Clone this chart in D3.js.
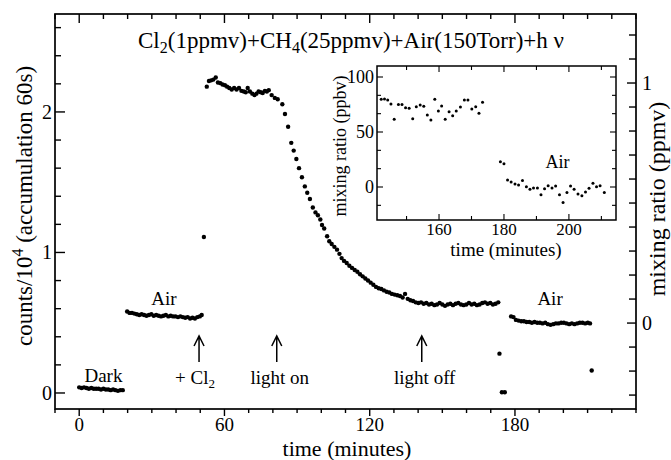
<!DOCTYPE html>
<html lang="en">
<head>
  <meta charset="UTF-8">
  <title>Cl2 + CH4 photolysis</title>
  <script src="https://cdn.jsdelivr.net/npm/d3@7"></script>
  <style>
    html, body { margin: 0; padding: 0; background: #fff; }
    svg text { font-family: 'Liberation Serif', 'Times New Roman', serif; fill: #000; }
  </style>
</head>
<body>
<script>
  // main panel: [time (minutes), counts/10^4]
  const dark = [[0,0.04],[1,0.035],[2,0.04],[3,0.035],[4,0.03],[5,0.035],[6,0.03],[7,0.03],[8,0.03],[9,0.025],
    [10,0.03],[11,0.025],[12,0.025],[13,0.02],[14,0.025],[15,0.02],[16,0.015],[17,0.02],[18,0.02]]
  const airBefore = [[19.8,0.58],[20.8,0.57],[21.8,0.57],[22.8,0.565],[23.8,0.56],[24.8,0.555],[25.8,0.56],[26.8,0.555],
    [27.8,0.55],[28.8,0.555],[29.8,0.56],[30.8,0.55],[31.8,0.555],[32.8,0.55],[33.8,0.545],[34.8,0.55],[35.8,0.555],
    [36.8,0.545],[37.8,0.55],[38.8,0.545],[39.8,0.545],[40.8,0.54],[41.8,0.545],[42.8,0.54],[43.8,0.535],[44.8,0.54],
    [45.8,0.53],[46.8,0.535],[47.8,0.53],[48.8,0.54],[49.8,0.545],[50.6,0.555]]
  const chlorineSpike = [[51.5,1.11]]
  const photolysis = [[52.7,2.18],[53.6,2.22],[54.5,2.225],[55.4,2.23],[56.4,2.245],[57.3,2.21],[58.3,2.205],[59.2,2.195],
    [60.2,2.19],[61.1,2.18],[62.0,2.17],[63.0,2.16],[64.0,2.17],[65.0,2.16],[66.0,2.17],[67.0,2.15],[68.0,2.145],
    [68.8,2.14],[69.6,2.17],[70.5,2.145],[71.5,2.13],[72.4,2.12],[73.2,2.13],[74.1,2.145],[75.0,2.14],[75.8,2.135],
    [76.7,2.15],[77.5,2.145],[78.3,2.155],[79.5,2.12],[80.8,2.10],[82.0,2.09],
    [83.9,2.055],[85.0,1.985],[86.3,1.895],[87.6,1.78],[88.6,1.725],[89.7,1.665],[90.8,1.60],[92.0,1.535],[93.2,1.47],
    [94.2,1.425],[95.3,1.38],[96.5,1.32],[97.6,1.285],[98.6,1.265],[99.6,1.235],[100.3,1.195],[101.2,1.17],[102.4,1.115],
    [103.3,1.08],[104.3,1.06],[105.4,1.04],[106.5,1.02],[107.5,0.99],[108.4,0.96],[109.4,0.94],[110.5,0.925],[111.6,0.905],
    [112.7,0.89],[113.8,0.875],[114.9,0.863],[116.0,0.845],[117.1,0.83],[118.2,0.815],[119.3,0.80],[120.4,0.785],
    [121.5,0.77],[122.6,0.755],[123.7,0.745],[124.8,0.74],[125.9,0.73],[127.0,0.72],[128.1,0.715],[129.2,0.705],
    [130.3,0.70],[131.4,0.695],[132.5,0.69],[133.6,0.68],[134.6,0.705],[135.7,0.67],[136.8,0.66],[137.9,0.655],
    [139.0,0.645],[140.1,0.64],[141.2,0.645],[142.3,0.635],[143.4,0.64],[144.5,0.63],[145.6,0.635],[146.7,0.625],
    [147.8,0.63],[148.9,0.64],[150.0,0.63],[151.1,0.62],[152.2,0.63],[153.3,0.635],[154.4,0.625],[155.5,0.635],
    [156.6,0.64],[157.7,0.63],[158.8,0.625],[159.9,0.63],[161.0,0.64],[162.1,0.63],[163.2,0.635],[164.3,0.625],
    [165.4,0.63],[166.5,0.64],[167.6,0.645],[168.7,0.635],[169.8,0.64],[170.9,0.63],[172.0,0.635],[173.1,0.645]]
  const flushDrop = [[173.6,0.28],[174.6,0.005],[175.8,0.005]]
  const airAfter = [[178.4,0.545],[179.4,0.54],[180.4,0.52],[181.5,0.515],[182.6,0.51],[183.7,0.51],[184.8,0.505],
    [185.9,0.505],[187.0,0.50],[188.1,0.505],[189.2,0.50],[190.3,0.50],[191.4,0.495],[192.5,0.50],[193.6,0.49],
    [194.7,0.485],[195.8,0.49],[196.9,0.495],[198.0,0.495],[199.1,0.50],[200.2,0.50],[201.3,0.495],[202.4,0.49],
    [203.5,0.495],[204.6,0.49],[205.7,0.495],[206.8,0.50],[207.9,0.50],[209.0,0.495],[210.1,0.50],[211.0,0.495]]
  const lastDot = [[211.7,0.16]]

  // inset: [time (minutes), mixing ratio (ppbv)]
  const insetBefore = [[142.2,79.7],[143.2,80],[144.2,79],[145.2,75.5],[146.2,61.5],[147.5,75],[148.6,75],[149.7,72],
    [150.8,71.5],[151.9,62],[153.0,73],[154.2,74.5],[155.3,73.3],[156.4,65.5],[157.5,61],[158.7,79.7],[159.8,69],
    [160.8,73.6],[161.9,61.5],[163.1,68.5],[164.2,64.8],[165.3,69],[166.6,72.7],[167.8,79],[168.9,79],[170.1,71],
    [171.3,73],[172.3,67],[173.4,77]]
  const insetAfter = [[178.9,23],[180.0,21.2],[181.1,6.4],[182.2,4.5],[183.4,2.7],[184.5,1.8],[185.7,5.8],[186.9,0.3],
    [188.0,-2],[189.1,-1],[190.3,-1],[191.4,-7],[192.5,-1.5],[193.6,1.2],[194.8,-1],[195.9,1],[197.1,-7],[198.2,-14],
    [199.4,-5],[200.5,1],[201.6,-2],[202.8,-6.4],[204.0,-7.9],[205.1,-4.5],[206.2,-1.2],[207.4,3.4],[208.5,0.3],
    [209.6,1.2],[210.9,-5]]

  // tick labels
  const xTickLabels = [0, 60, 120, 180]
  const yTickLabels = [0, 1, 2]
  const yRightTickLabels = [0, 1]
  const insetXTickLabels = [160, 180, 200]
  const insetYTickLabels = [0, 50, 100]

  // annotations [time, label]
  const arrows = [[49.5, '+ Cl'], [81.6, 'light on'], [141.5, 'light off']]

  const width = 671
  const height = 460
  const frame = { left: 55, right: 636, top: 14, bottom: 409 }
  const inFrame = { left: 377, right: 616, top: 66, bottom: 220 }

  const svg = d3.select('body').append('svg').attr('width', width).attr('height', height)

  const x = d3.scaleLinear().domain([-10, 230]).range([frame.left, frame.right])
  const y = d3.scaleLinear().domain([-0.114, 2.697]).range([frame.bottom, frame.top])
  const yR = d3.scaleLinear().domain([-0.358, 1.2875]).range([frame.bottom, frame.top])

  const xi = d3.scaleLinear().domain([140.9, 214.5]).range([inFrame.left, inFrame.right])
  const yi = d3.scaleLinear().domain([-30, 110]).range([inFrame.bottom, inFrame.top])

  // frame
  svg.append('rect')
    .attr('x', frame.left).attr('y', frame.top)
    .attr('width', frame.right - frame.left).attr('height', frame.bottom - frame.top)
    .attr('fill', 'none').attr('stroke', '#000').attr('stroke-width', 1.7)

  const tickG = svg.append('g').attr('stroke', '#000').attr('stroke-width', 1.4)

  // bottom ticks (outward) and top ticks (inward)
  d3.range(-10, 231, 10).forEach(t => {
    const major = t % 60 === 0
    tickG.append('line').attr('x1', x(t)).attr('x2', x(t))
      .attr('y1', frame.bottom).attr('y2', frame.bottom + (major ? 7 : 4))
    tickG.append('line').attr('x1', x(t)).attr('x2', x(t))
      .attr('y1', frame.top).attr('y2', frame.top + (major ? 9 : 5))
  })
  // left ticks
  d3.range(0, 2.61, 0.2).forEach(v => {
    const major = Math.abs(v - Math.round(v)) < 1e-6
    tickG.append('line').attr('x1', frame.left).attr('x2', frame.left + (major ? 10 : 6))
      .attr('y1', y(v)).attr('y2', y(v))
  })
  // right ticks (ppmv)
  d3.range(-3, 13).forEach(k => {
    const v = k / 10
    const major = k % 10 === 0
    tickG.append('line').attr('x1', frame.right).attr('x2', frame.right - (major ? 9 : 7))
      .attr('y1', yR(v)).attr('y2', yR(v))
  })

  svg.append('g').selectAll('text').data(xTickLabels).join('text')
    .attr('x', d => x(d)).attr('y', 431)
    .attr('text-anchor', 'middle').style('font-size', '19px').text(d => d)
  svg.append('g').selectAll('text').data(yTickLabels).join('text')
    .attr('x', 52).attr('y', d => y(d) + 7)
    .attr('text-anchor', 'end').style('font-size', '20px').text(d => d)
  svg.append('g').selectAll('text').data(yRightTickLabels).join('text')
    .attr('x', 642).attr('y', d => yR(d) + 7)
    .attr('text-anchor', 'start').style('font-size', '20px').text(d => d)

  // axis titles
  svg.append('text')
    .attr('x', 347).attr('y', 455.5)
    .attr('text-anchor', 'middle').style('font-size', '22px').text('time (minutes)')

  const yTitle = svg.append('text')
    .attr('transform', `translate(32,${206}) rotate(-90)`)
    .attr('text-anchor', 'middle').style('font-size', '23px')
  yTitle.append('tspan').text('counts/10')
  yTitle.append('tspan').attr('dy', -9).style('font-size', '16px').text('4')
  yTitle.append('tspan').attr('dy', 9).text(' (accumulation 60s)')

  svg.append('text')
    .attr('transform', `translate(665,${199}) rotate(-90)`)
    .attr('text-anchor', 'middle').style('font-size', '24px').text('mixing ratio (ppmv)')

  // title
  const title = svg.append('text')
    .attr('x', 351).attr('y', 48)
    .attr('text-anchor', 'middle').style('font-size', '23px')
  title.append('tspan').text('Cl')
  title.append('tspan').attr('dy', 5).style('font-size', '16px').text('2')
  title.append('tspan').attr('dy', -5).text('(1ppmv)+CH')
  title.append('tspan').attr('dy', 5).style('font-size', '16px').text('4')
  title.append('tspan').attr('dy', -5).text('(25ppmv)+Air(150Torr)+h \u03bd')

  // data points
  const segments = [dark, airBefore, chlorineSpike, photolysis, flushDrop, airAfter, lastDot]
  svg.append('g').selectAll('circle')
    .data(segments.flat()).join('circle')
    .attr('cx', d => x(d[0])).attr('cy', d => y(d[1])).attr('r', 2.2)
    .attr('fill', '#000')

  // labels in the main panel
  const note = (tx, ty, txt) => svg.append('text')
    .attr('x', tx).attr('y', ty).attr('text-anchor', 'middle').style('font-size', '19px').text(txt)
  note(x(10), 382, 'Dark')
  note(x(35), 305, 'Air')
  note(x(194.5), 305, 'Air')

  arrows.forEach(([t, label]) => {
    const ax = x(t)
    svg.append('path')
      .attr('d', `M${ax},362 V336 M${ax - 5},346 L${ax},336 L${ax + 5},346`)
      .attr('fill', 'none').attr('stroke', '#000').attr('stroke-width', 1.5)
    const lt = svg.append('text').attr('x', ax + (label === '+ Cl' ? -4 : 3))
      .attr('y', 384).attr('text-anchor', 'middle').style('font-size', '19px')
    lt.append('tspan').text(label)
    if (label === '+ Cl') lt.append('tspan').attr('dy', 4).style('font-size', '13px').text('2')
  })

  // inset
  const inset = svg.append('g')
  inset.append('rect')
    .attr('x', inFrame.left).attr('y', inFrame.top)
    .attr('width', inFrame.right - inFrame.left).attr('height', inFrame.bottom - inFrame.top)
    .attr('fill', '#fff').attr('stroke', '#000').attr('stroke-width', 1.5)

  const inTicks = inset.append('g').attr('stroke', '#000').attr('stroke-width', 1.1)
  d3.range(150, 211, 10).forEach(t => {
    const major = t % 20 === 0
    inTicks.append('line').attr('x1', xi(t)).attr('x2', xi(t))
      .attr('y1', inFrame.bottom).attr('y2', inFrame.bottom - (major ? 6 : 4))
    inTicks.append('line').attr('x1', xi(t)).attr('x2', xi(t))
      .attr('y1', inFrame.top).attr('y2', inFrame.top + (major ? 6 : 4))
  })
  d3.range(-1, 7).forEach(k => {
    const v = k * 50 / 3
    const major = k % 3 === 0
    inTicks.append('line').attr('x1', inFrame.left).attr('x2', inFrame.left + (major ? 6 : 4))
      .attr('y1', yi(v)).attr('y2', yi(v))
    inTicks.append('line').attr('x1', inFrame.right).attr('x2', inFrame.right - (major ? 6 : 4))
      .attr('y1', yi(v)).attr('y2', yi(v))
  })

  inset.append('g').selectAll('text').data(insetXTickLabels).join('text')
    .attr('x', d => xi(d)).attr('y', 235)
    .attr('text-anchor', 'middle').style('font-size', '17px').text(d => d)
  inset.append('g').selectAll('text').data(insetYTickLabels).join('text')
    .attr('x', 374).attr('y', d => yi(d) + 6)
    .attr('text-anchor', 'end').style('font-size', '18px').text(d => d)

  inset.append('text')
    .attr('x', 506).attr('y', 256)
    .attr('text-anchor', 'middle').style('font-size', '19px').text('time (minutes)')
  inset.append('text')
    .attr('transform', `translate(346,${146}) rotate(-90)`)
    .attr('text-anchor', 'middle').style('font-size', '18px').text('mixing ratio (ppbv)')
  inset.append('text')
    .attr('x', xi(196.5)).attr('y', 168)
    .attr('text-anchor', 'middle').style('font-size', '18px').text('Air')

  inset.append('g').selectAll('circle')
    .data(insetBefore.concat(insetAfter)).join('circle')
    .attr('cx', d => xi(d[0])).attr('cy', d => yi(d[1])).attr('r', 1.5)
    .attr('fill', '#000')
</script>
</body>
</html>
